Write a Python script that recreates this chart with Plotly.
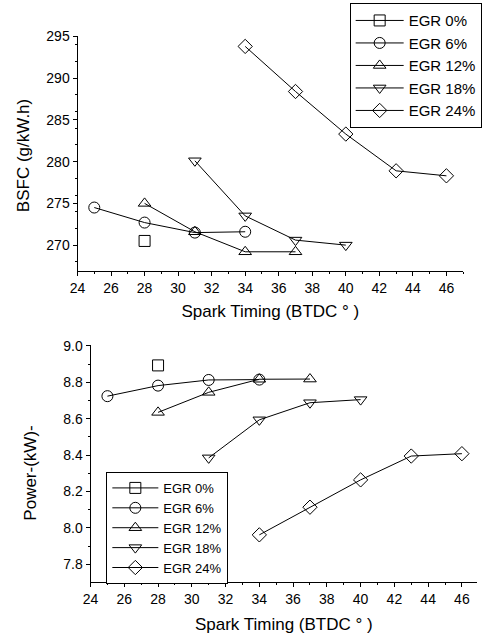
import plotly.graph_objects as go

series_names = ["EGR 0%", "EGR 6%", "EGR 12%", "EGR 18%", "EGR 24%"]
symbols = ["square-open", "circle-open", "triangle-up-open", "triangle-down-open", "diamond-open"]

# BSFC (g/kW.h) vs spark timing
bsfc_x = [
    [28],
    [25, 28, 31, 34],
    [28, 31, 34, 37],
    [31, 34, 37, 40],
    [34, 37, 40, 43, 46],
]
bsfc_y = [
    [270.5],
    [274.5, 272.7, 271.5, 271.6],
    [275.0, 271.6, 269.2, 269.2],
    [280.1, 273.5, 270.6, 270.0],
    [293.8, 288.4, 283.3, 278.9, 278.3],
]

# Power (kW) vs spark timing
power_x = [
    [28],
    [25, 28, 31, 34],
    [28, 31, 34, 37],
    [31, 34, 37, 40],
    [34, 37, 40, 43, 46],
]
power_y = [
    [8.893],
    [8.724, 8.782, 8.813, 8.815],
    [8.635, 8.745, 8.817, 8.818],
    [8.385, 8.594, 8.688, 8.705],
    [7.962, 8.114, 8.264, 8.395, 8.408],
]

x_ticks = list(range(24, 48, 2))
bsfc_ticks = [270, 275, 280, 285, 290, 295]
power_ticks = [7.8, 8.0, 8.2, 8.4, 8.6, 8.8, 9.0]
power_ticktext = ["7.8", "8.0", "8.2", "8.4", "8.6", "8.8", "9.0"]

FONT = "Liberation Sans, Arial, sans-serif"

fig = go.Figure()
for i, name in enumerate(series_names):
    fig.add_trace(go.Scatter(
        x=bsfc_x[i], y=bsfc_y[i], name=name, mode="lines+markers",
        line=dict(color="black", width=1),
        marker=dict(symbol=symbols[i], size=11, color="black", line=dict(width=1)),
        xaxis="x", yaxis="y", legend="legend",
    ))
for i, name in enumerate(series_names):
    fig.add_trace(go.Scatter(
        x=power_x[i], y=power_y[i], name=name, mode="lines+markers",
        line=dict(color="black", width=1),
        marker=dict(symbol=symbols[i], size=11, color="black", line=dict(width=1)),
        xaxis="x2", yaxis="y2", legend="legend2",
    ))

axis_common = dict(
    showgrid=False, zeroline=False, showline=True, linecolor="black", linewidth=1,
    ticks="outside", ticklen=4, tickwidth=1, tickcolor="black",
    tickfont=dict(family=FONT, size=14, color="black"),
    minor=dict(ticks="outside", ticklen=2, tickcolor="black"),
    automargin=False,
)

fig.update_layout(
    width=482, height=639,
    margin=dict(l=0, r=0, t=0, b=0),
    paper_bgcolor="white", plot_bgcolor="white",
    font=dict(family=FONT, color="black"),
    xaxis=dict(domain=[0.1618, 0.967], range=[24, 47], tickvals=x_ticks,
               anchor="y",
               title=dict(text="Spark Timing (BTDC ° )", font=dict(size=17), standoff=10),
               **axis_common),
    yaxis=dict(domain=[0.5759, 0.9437], range=[266.9, 295.05], tickvals=bsfc_ticks,
               anchor="x", **axis_common),
    xaxis2=dict(domain=[0.189, 0.996], range=[24, 46.9], tickvals=x_ticks,
                anchor="y2",
                title=dict(text="Spark Timing (BTDC ° )", font=dict(size=17), standoff=12),
                **axis_common),
    yaxis2=dict(domain=[0.0892, 0.4595], range=[7.703, 9.003], tickvals=power_ticks,
                ticktext=power_ticktext, anchor="x2", **axis_common),
    legend=dict(x=0.730, y=0.995, xanchor="left", yanchor="top",
                bordercolor="black", borderwidth=1, bgcolor="white",
                font=dict(family=FONT, size=15, color="black"),
                tracegroupgap=0, itemwidth=48),
    legend2=dict(x=0.222, y=0.2614, xanchor="left", yanchor="top",
                 bordercolor="black", borderwidth=1, bgcolor="white",
                 font=dict(family=FONT, size=13, color="black"),
                 tracegroupgap=0, itemwidth=46),
    annotations=[
        dict(text="BSFC (g/kW.h)", xref="paper", yref="paper", x=0.0477, y=0.757,
             xanchor="center", yanchor="middle", textangle=-90, showarrow=False,
             font=dict(family=FONT, size=17, color="black")),
        dict(text="Power-(kW)-", xref="paper", yref="paper", x=0.0643, y=0.26,
             xanchor="center", yanchor="middle", textangle=-90, showarrow=False,
             font=dict(family=FONT, size=17, color="black")),
    ],
)

fig.write_html("out.html")
